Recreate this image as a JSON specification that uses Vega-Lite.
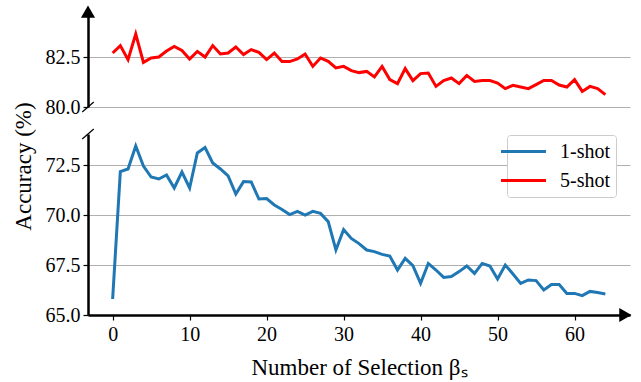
{
  "$schema": "https://vega.github.io/schema/vega-lite/v6.json",
  "padding": {"left": 12, "top": 5, "right": 5, "bottom": 5},
  "background": "white",
  "spacing": 27,
  "bounds": "flush",
  "config": {
    "view": {"stroke": null},
    "font": "Liberation Serif",
    "style": {"guide-label": {"font": "Liberation Serif"}, "guide-title": {"font": "Liberation Serif"}},
    "axis": {
      "domainColor": "black", "domainWidth": 2.5,
      "tickColor": "black", "tickWidth": 1.2, "tickSize": 5,
      "labelFont": "Liberation Serif", "labelFontSize": 20, "labelColor": "black", "labelPadding": 3, "labelFlush": false, "labelOverlap": false,
      "titleFont": "Liberation Serif", "titleFontSize": 23, "titleFontWeight": "normal", "titleColor": "black",
      "gridColor": "#b0b0b0", "gridWidth": 1
    },
    "axisX": {"grid": false, "labelPadding": 4, "labelFont": "Liberation Serif"},
    "axisY": {"grid": true, "labelFont": "Liberation Serif"}
  },
  "datasets": {
    "acc": [
      {"x":0,"acc":65.8,"shot":"1-shot"},{"x":1,"acc":72.17,"shot":"1-shot"},{"x":2,"acc":72.3,"shot":"1-shot"},{"x":3,"acc":73.45,"shot":"1-shot"},{"x":4,"acc":72.45,"shot":"1-shot"},{"x":5,"acc":71.9,"shot":"1-shot"},{"x":6,"acc":71.8,"shot":"1-shot"},{"x":7,"acc":72.0,"shot":"1-shot"},{"x":8,"acc":71.35,"shot":"1-shot"},{"x":9,"acc":72.15,"shot":"1-shot"},
      {"x":10,"acc":71.35,"shot":"1-shot"},{"x":11,"acc":73.1,"shot":"1-shot"},{"x":12,"acc":73.37,"shot":"1-shot"},{"x":13,"acc":72.6,"shot":"1-shot"},{"x":14,"acc":72.3,"shot":"1-shot"},{"x":15,"acc":71.95,"shot":"1-shot"},{"x":16,"acc":71.05,"shot":"1-shot"},{"x":17,"acc":71.67,"shot":"1-shot"},{"x":18,"acc":71.65,"shot":"1-shot"},{"x":19,"acc":70.8,"shot":"1-shot"},
      {"x":20,"acc":70.82,"shot":"1-shot"},{"x":21,"acc":70.5,"shot":"1-shot"},{"x":22,"acc":70.28,"shot":"1-shot"},{"x":23,"acc":70.02,"shot":"1-shot"},{"x":24,"acc":70.18,"shot":"1-shot"},{"x":25,"acc":70.0,"shot":"1-shot"},{"x":26,"acc":70.18,"shot":"1-shot"},{"x":27,"acc":70.08,"shot":"1-shot"},{"x":28,"acc":69.67,"shot":"1-shot"},{"x":29,"acc":68.25,"shot":"1-shot"},
      {"x":30,"acc":69.27,"shot":"1-shot"},{"x":31,"acc":68.83,"shot":"1-shot"},{"x":32,"acc":68.57,"shot":"1-shot"},{"x":33,"acc":68.25,"shot":"1-shot"},{"x":34,"acc":68.17,"shot":"1-shot"},{"x":35,"acc":68.03,"shot":"1-shot"},{"x":36,"acc":67.95,"shot":"1-shot"},{"x":37,"acc":67.25,"shot":"1-shot"},{"x":38,"acc":67.83,"shot":"1-shot"},{"x":39,"acc":67.47,"shot":"1-shot"},
      {"x":40,"acc":66.58,"shot":"1-shot"},{"x":41,"acc":67.58,"shot":"1-shot"},{"x":42,"acc":67.25,"shot":"1-shot"},{"x":43,"acc":66.88,"shot":"1-shot"},{"x":44,"acc":66.92,"shot":"1-shot"},{"x":45,"acc":67.17,"shot":"1-shot"},{"x":46,"acc":67.45,"shot":"1-shot"},{"x":47,"acc":67.08,"shot":"1-shot"},{"x":48,"acc":67.58,"shot":"1-shot"},{"x":49,"acc":67.45,"shot":"1-shot"},
      {"x":50,"acc":66.8,"shot":"1-shot"},{"x":51,"acc":67.5,"shot":"1-shot"},{"x":52,"acc":67.05,"shot":"1-shot"},{"x":53,"acc":66.58,"shot":"1-shot"},{"x":54,"acc":66.75,"shot":"1-shot"},{"x":55,"acc":66.72,"shot":"1-shot"},{"x":56,"acc":66.25,"shot":"1-shot"},{"x":57,"acc":66.52,"shot":"1-shot"},{"x":58,"acc":66.52,"shot":"1-shot"},{"x":59,"acc":66.08,"shot":"1-shot"},
      {"x":60,"acc":66.08,"shot":"1-shot"},{"x":61,"acc":65.97,"shot":"1-shot"},{"x":62,"acc":66.18,"shot":"1-shot"},{"x":63,"acc":66.12,"shot":"1-shot"},{"x":64,"acc":66.05,"shot":"1-shot"},
      {"x":0,"acc":82.7,"shot":"5-shot"},{"x":1,"acc":83.07,"shot":"5-shot"},{"x":2,"acc":82.37,"shot":"5-shot"},{"x":3,"acc":83.65,"shot":"5-shot"},{"x":4,"acc":82.23,"shot":"5-shot"},{"x":5,"acc":82.45,"shot":"5-shot"},{"x":6,"acc":82.5,"shot":"5-shot"},{"x":7,"acc":82.8,"shot":"5-shot"},{"x":8,"acc":83.03,"shot":"5-shot"},{"x":9,"acc":82.83,"shot":"5-shot"},
      {"x":10,"acc":82.4,"shot":"5-shot"},{"x":11,"acc":82.78,"shot":"5-shot"},{"x":12,"acc":82.5,"shot":"5-shot"},{"x":13,"acc":83.07,"shot":"5-shot"},{"x":14,"acc":82.65,"shot":"5-shot"},{"x":15,"acc":82.7,"shot":"5-shot"},{"x":16,"acc":83.0,"shot":"5-shot"},{"x":17,"acc":82.62,"shot":"5-shot"},{"x":18,"acc":82.87,"shot":"5-shot"},{"x":19,"acc":82.73,"shot":"5-shot"},
      {"x":20,"acc":82.37,"shot":"5-shot"},{"x":21,"acc":82.7,"shot":"5-shot"},{"x":22,"acc":82.28,"shot":"5-shot"},{"x":23,"acc":82.27,"shot":"5-shot"},{"x":24,"acc":82.4,"shot":"5-shot"},{"x":25,"acc":82.65,"shot":"5-shot"},{"x":26,"acc":82.03,"shot":"5-shot"},{"x":27,"acc":82.45,"shot":"5-shot"},{"x":28,"acc":82.28,"shot":"5-shot"},{"x":29,"acc":81.95,"shot":"5-shot"},
      {"x":30,"acc":82.03,"shot":"5-shot"},{"x":31,"acc":81.82,"shot":"5-shot"},{"x":32,"acc":81.72,"shot":"5-shot"},{"x":33,"acc":81.78,"shot":"5-shot"},{"x":34,"acc":81.5,"shot":"5-shot"},{"x":35,"acc":82.03,"shot":"5-shot"},{"x":36,"acc":81.37,"shot":"5-shot"},{"x":37,"acc":81.17,"shot":"5-shot"},{"x":38,"acc":81.92,"shot":"5-shot"},{"x":39,"acc":81.32,"shot":"5-shot"},
      {"x":40,"acc":81.67,"shot":"5-shot"},{"x":41,"acc":81.7,"shot":"5-shot"},{"x":42,"acc":81.03,"shot":"5-shot"},{"x":43,"acc":81.32,"shot":"5-shot"},{"x":44,"acc":81.45,"shot":"5-shot"},{"x":45,"acc":81.17,"shot":"5-shot"},{"x":46,"acc":81.58,"shot":"5-shot"},{"x":47,"acc":81.28,"shot":"5-shot"},{"x":48,"acc":81.33,"shot":"5-shot"},{"x":49,"acc":81.32,"shot":"5-shot"},
      {"x":50,"acc":81.2,"shot":"5-shot"},{"x":51,"acc":80.92,"shot":"5-shot"},{"x":52,"acc":81.08,"shot":"5-shot"},{"x":53,"acc":81.0,"shot":"5-shot"},{"x":54,"acc":80.92,"shot":"5-shot"},{"x":55,"acc":81.12,"shot":"5-shot"},{"x":56,"acc":81.33,"shot":"5-shot"},{"x":57,"acc":81.33,"shot":"5-shot"},{"x":58,"acc":81.1,"shot":"5-shot"},{"x":59,"acc":81.0,"shot":"5-shot"},
      {"x":60,"acc":81.37,"shot":"5-shot"},{"x":61,"acc":80.78,"shot":"5-shot"},{"x":62,"acc":81.03,"shot":"5-shot"},{"x":63,"acc":80.92,"shot":"5-shot"},{"x":64,"acc":80.62,"shot":"5-shot"}
    ]
  },
  "resolve": {"legend": {"color": "independent"}, "scale": {"color": "independent"}},
  "vconcat": [
    {
      "width": 542,
      "height": 98,
      "layer": [
        {
          "data": {"name": "acc"},
          "transform": [{"filter": "datum.shot === '5-shot'"}],
          "mark": {"type": "line", "strokeWidth": 3, "color": "#ff0000"},
          "encoding": {
            "x": {"field": "x", "type": "quantitative", "scale": {"domain": [-3.2, 67.2], "nice": false, "zero": false}, "axis": null},
            "y": {"field": "acc", "type": "quantitative", "scale": {"domain": [80, 84.9], "nice": false, "zero": false},
                  "axis": {"values": [80, 82.5], "format": ".1f", "title": null, "labelFont": "Liberation Serif", "labelFontSize": 20}}
          }
        },
        {
          "data": {"values": [{}]},
          "mark": {"type": "point", "shape": "triangle-up", "filled": true, "color": "black", "opacity": 1, "size": 200},
          "encoding": {"x": {"datum": -3.2, "type": "quantitative"}, "y": {"datum": 84.77, "type": "quantitative"}}
        },
        {
          "data": {"values": [{}]},
          "mark": {"type": "rule", "color": "black", "strokeWidth": 1.2},
          "encoding": {"x": {"datum": -3.95, "type": "quantitative"}, "x2": {"datum": -2.45}, "y": {"datum": 79.75, "type": "quantitative"}, "y2": {"datum": 80.25}}
        }
      ]
    },
    {
      "width": 542,
      "height": 181,
      "layer": [
        {
          "data": {"name": "acc"},
          "transform": [{"filter": "datum.shot === '1-shot'"}],
          "mark": {"type": "line", "strokeWidth": 3},
          "encoding": {
            "x": {"field": "x", "type": "quantitative", "scale": {"domain": [-3.2, 67.2], "nice": false, "zero": false},
                  "axis": {"values": [0, 10, 20, 30, 40, 50, 60], "format": "d", "title": "Number of Selection βₛ", "titlePadding": 12, "labelFont": "Liberation Serif", "labelFontSize": 20}},
            "y": {"field": "acc", "type": "quantitative", "scale": {"domain": [65, 74.05], "nice": false, "zero": false},
                  "axis": {"values": [65, 67.5, 70, 72.5], "format": ".1f", "title": "Accuracy (%)", "titleY": 32, "titlePadding": 10, "labelFont": "Liberation Serif", "labelFontSize": 20}},
            "color": {"field": "shot", "type": "nominal",
                      "scale": {"domain": ["1-shot", "5-shot"], "range": ["#1f77b4", "#ff0000"]},
                      "legend": {"title": null, "orient": "none", "legendX": 419, "legendY": 1,
                                 "symbolType": "M-2.5,0H2.5", "symbolSize": 324, "symbolStrokeWidth": 3,
                                 "labelFont": "Liberation Serif", "labelFontSize": 20, "labelColor": "black", "labelOffset": 26,
                                 "rowPadding": 8, "padding": 6, "strokeColor": "#cccccc", "fillColor": "white", "cornerRadius": 3}}
          }
        },
        {
          "data": {"values": [{}]},
          "mark": {"type": "point", "shape": "triangle-right", "filled": true, "color": "black", "opacity": 1, "size": 200},
          "encoding": {"x": {"datum": 66.6, "type": "quantitative"}, "y": {"datum": 65, "type": "quantitative"}}
        },
        {
          "data": {"values": [{}]},
          "mark": {"type": "rule", "color": "black", "strokeWidth": 1.2},
          "encoding": {"x": {"datum": -3.95, "type": "quantitative"}, "x2": {"datum": -2.45}, "y": {"datum": 73.8, "type": "quantitative"}, "y2": {"datum": 74.3}}
        }
      ]
    }
  ]
}
